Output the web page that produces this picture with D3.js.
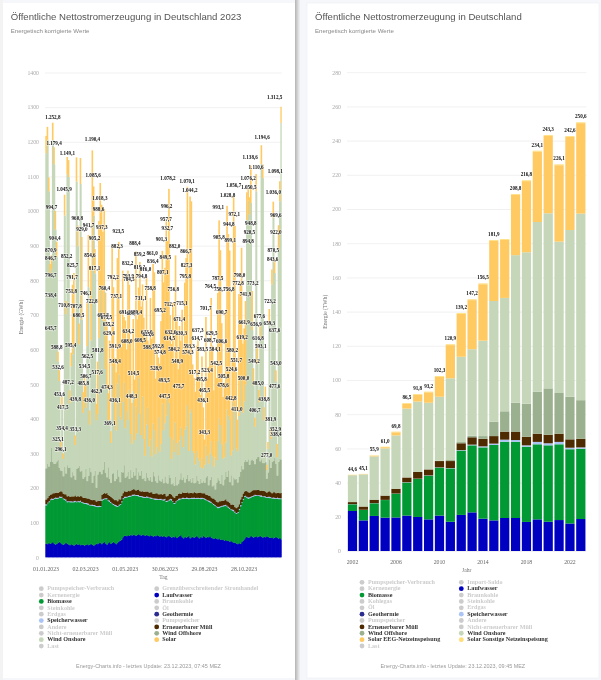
<!DOCTYPE html>
<html><head><meta charset="utf-8">
<script src="https://cdn.jsdelivr.net/npm/d3@7/dist/d3.min.js"></script>
<style>html,body{margin:0;padding:0;background:#f5f7fa}svg{display:block;filter:blur(.35px)}</style></head>
<body><svg id="c" width="601" height="680"></svg>
<script>
// ---- left chart: daily production 2023 (GWh), sampled every second day
const leftTitle="Öffentliche Nettostromerzeugung in Deutschland 2023";
const rightTitle="Öffentliche Nettostromerzeugung in Deutschland";
const subTitle="Energetisch korrigierte Werte";
const hydro=[40,38,42,39,41,44,40,37,39,42,45,41,38,36,40,43,39,37,35,38,36,34,37,39,36,38,35,37,36,34,36,38,35,37,39,36,34,37,40,38,41,43,38,42,46,40,37,41,44,39,42,45,41,38,43,46,48,51,58,62,63,61,64,62,65,63,66,64,62,65,67,64,63,66,64,62,65,63,61,64,62,60,63,61,64,62,60,63,59,62,60,58,61,63,59,57,60,58,61,56,59,62,64,58,55,60,57,59,62,55,58,60,56,59,63,58,55,60,57,62,59,56,60,58,61,57,55,53,56,54,52,55,51,50,52,48,50,47,49,45,47,44,42,43,40,38,41,39,44,48,52,58,60,56,58,62,60,57,59,61,58,60,62,59,57,60,58,61,59,57,56,58,55,57,59,56,54,56,52];
const biomass=[110,118,117,126,125,122,129,133,130,128,127,131,135,132,126,120,120,123,124,121,123,125,123,120,124,121,125,121,120,121,118,115,117,113,111,113,114,110,106,107,105,103,125,124,122,128,131,123,116,118,112,106,108,109,103,103,104,108,110,109,109,112,110,113,111,114,112,115,116,112,109,111,111,107,108,110,108,109,110,106,107,108,104,105,102,104,106,103,106,102,106,102,101,101,107,107,100,96,98,107,106,105,104,111,114,109,112,110,106,114,111,109,113,110,106,111,114,108,112,107,108,109,103,103,98,100,99,98,92,91,90,88,94,97,95,100,98,100,94,95,90,91,91,86,86,90,96,108,114,118,122,118,112,113,113,111,115,119,118,116,119,117,114,116,117,114,115,111,113,114,115,112,115,112,110,113,114,112,116];
const storage=[3,2,3,2,4,3,2,3,3,2,4,3,2,2,3,4,3,2,3,3,2,4,3,2,3,3,4,2,3,2,3,4,3,2,2,3,3,4,2,3,3,2,4,3,2,3,3,2,4,3,2,3,3,4,2,3,2,3,3,4,3,2,3,3,2,4,3,3,2,3,4,2,3,3,3,2,4,3,2,3,3,2,3,4,3,2,3,3,2,4,3,3,2,3,3,4,2,3,3,2,4,3,2,3,3,2,4,3,3,2,3,3,4,2,3,3,2,4,3,2,3,3,2,3,4,3,2,3,3,2,4,3,3,2,3,3,4,2,3,3,2,3,4,3,2,3,3,4,2,3,3,2,3,4,3,3,2,3,4,3,2,3,3,4,2,3,3,2,3,4,3,2,3,3,2,4,3,3,2];
const waste=[14,13,15,14,12,16,14,13,15,14,13,16,15,14,13,15,14,16,13,14,15,13,16,14,15,13,14,16,13,15,14,13,15,16,14,13,15,14,13,16,14,15,13,14,16,13,15,14,13,15,16,14,13,15,14,16,13,15,14,16,15,14,16,13,15,14,16,14,13,15,16,14,13,15,14,16,13,15,14,15,16,13,14,15,16,14,13,15,14,16,15,13,14,16,15,13,14,15,16,13,14,15,13,16,14,15,13,16,14,15,14,13,16,15,13,14,16,15,13,14,15,13,16,14,15,13,14,16,15,14,13,16,14,15,13,14,16,13,15,14,13,15,14,13,14,15,13,16,14,15,13,14,16,15,13,14,16,15,13,14,16,15,13,14,16,15,14,13,15,16,14,13,15,16,14,13,15,14,16];
const offshore=[90,100,85,95,135,90,85,85,90,95,70,60,60,50,80,60,90,80,85,55,70,60,45,80,80,90,70,75,55,60,85,50,65,90,80,50,70,85,40,75,85,85,60,70,90,60,45,80,50,40,70,75,55,60,90,65,50,70,60,75,40,45,55,35,60,35,50,40,65,30,50,45,60,35,40,30,55,40,35,45,30,65,50,35,30,55,40,35,45,30,50,40,35,55,45,30,40,35,55,30,30,40,60,35,45,30,40,50,35,40,30,45,25,30,50,35,25,40,30,35,30,50,55,30,45,60,35,40,30,55,70,60,50,75,45,60,80,70,90,60,85,55,80,80,85,70,80,80,90,70,85,90,85,95,80,90,90,85,75,90,95,95,85,90,80,80,85,40,55,90,70,90,90,100,85,50,90,100,95];
const onshore=[910,935,795,545,515,930,865,675,590,285,250,65,185,50,725,460,840,840,185,320,340,380,100,830,640,350,830,435,190,230,175,390,545,125,380,620,750,570,195,175,385,525,460,430,490,300,255,135,170,115,310,215,165,140,250,295,190,150,203,238,143,188,148,258,103,98,233,103,178,133,273,178,103,238,113,73,138,203,98,108,73,138,133,78,103,168,83,108,218,153,153,193,248,208,118,73,123,97,157,122,82,112,132,127,87,152,152,202,87,192,212,77,87,52,72,67,67,32,72,37,52,92,57,62,77,102,87,52,92,65,107,178,170,87,77,64,84,195,158,180,57,100,217,200,87,90,175,188,250,164,175,217,698,748,723,743,373,218,108,773,268,158,358,853,823,123,183,25,68,393,83,513,703,533,238,53,613,743,973];
const solar=[50,37,40,26,40,50,49,54,44,28,32,20,28,16,60,38,50,49,37,40,201,205,28,70,60,60,75,239,60,64,66,126,151,41,214,340,85,70,47,151,338,308,318,257,240,220,195,79,229,34,350,322,191,168,362,383,300,210,380,190,311,178,432,303,274,118,208,174,448,329,260,439,371,324,350,340,426,193,295,408,340,461,456,218,290,172,254,355,441,427,449,566,452,618,352,332,396,264,482,360,248,331,250,365,280,425,486,630,283,624,600,250,217,210,304,347,240,210,293,176,73,371,223,280,298,414,319,220,274,237,427,573,505,350,178,205,380,588,524,489,132,260,596,532,221,91,352,358,380,199,211,241,80,36,50,108,113,49,26,50,56,35,37,54,40,38,35,15,20,43,31,43,46,40,32,38,70,58,47];
const dayTickRows=[0,30,60,90,120,150];
const dayTickLabels=["01.01.2023","02.03.2023","01.05.2023","30.06.2023","29.08.2023","28.10.2023"];
const leftYTicks=[0,100,200,300,400,500,600,700,800,900,1000,1100,1200,1300,1400];
// stack-total labels (day of year offset, GWh)
const labelDay=[8,8,8,8,8,11,13,9,14,17,19,19,21,23,25,26,28,28,32,33,34,38,39,40,41,45,45,46,48,50,55,57,59,61,61,63,65,66,67,70,71,72,74,74,77,78,79,80,82,85,87,89,92,93,95,96,97,102,105,105,105,107,108,110,120,123,124,125,125,126,130,131,133,135,137,142,142,143,144,145,151,153,155,156,158,161,162,167,170,173,173,175,177,179,180,181,182,183,184,185,187,188,189,193,194,195,199,201,202,205,206,211,212,213,214,215,217,218,225,229,230,235,237,238,240,240,242,244,248,249,251,256,258,260,261,262,263,266,266,268,269,275,277,277,279,280,281,282,284,285,288,289,291,293,297,299,300,302,306,307,306,308,310,309,313,315,316,318,318,321,321,323,325,327,330,334,338,339,340,343,344,344,346,346,346,347,347,348,348,348,348];
const labelValue=[870.9,846.7,796.7,738.4,645.7,1252.8,1179.4,994.7,904.4,588.8,532.6,325.1,453.6,296.1,354.4,417.5,710.8,1045.9,852.2,1149.1,487.2,595.4,751.8,791.7,825.7,353.3,439.8,707.8,960.8,680.5,929.0,485.8,534.5,506.7,746.1,562.5,941.7,436.0,854.6,722.8,1190.4,1085.6,817.1,905.2,462.9,517.6,581.8,988.6,1018.3,937.3,682.8,760.4,675.5,474.3,655.2,629.4,369.1,792.2,591.9,436.1,548.4,737.1,882.3,923.5,691.7,608.0,832.2,634.2,793.9,784.5,448.3,688.4,514.5,888.4,689.4,819.2,859.2,608.5,731.1,794.8,816.0,633.0,625.6,588.1,758.8,861.0,836.4,528.9,592.8,574.8,695.2,901.3,807.1,493.5,447.5,849.5,957.7,996.2,932.7,1078.2,614.5,712.7,632.6,756.8,584.2,882.0,548.9,475.7,671.4,630.3,715.1,795.8,866.7,827.3,1070.1,574.3,593.3,1044.2,517.2,614.7,637.3,495.8,583.5,436.1,465.5,343.3,701.7,523.4,608.7,764.5,629.5,584.1,542.5,787.5,993.1,905.8,758.3,606.6,690.7,478.6,505.8,1028.8,944.8,756.8,899.1,442.8,524.6,580.2,1056.7,972.1,551.7,411.0,772.8,798.0,619.2,500.0,661.9,741.9,1076.2,1050.5,894.8,920.5,948.8,1138.6,773.2,549.2,406.7,656.9,1110.6,616.8,485.0,677.6,593.1,1194.6,438.8,277.0,659.3,723.2,381.9,843.6,870.5,1036.0,637.6,1312.5,477.6,1098.1,352.9,338.4,543.0,969.6,922.0];
// ---- right chart: yearly production (TWh)
const years=[2002,2003,2004,2005,2006,2007,2008,2009,2010,2011,2012,2013,2014,2015,2016,2017,2018,2019,2020,2021,2022,2023];
const yHydro=[23.4,17.9,20.5,19.5,19.6,20.7,19.9,18.5,20.7,17.1,21.1,22.6,18.9,17.9,19.3,19.3,17,18.5,17.1,18.1,16.1,18.7];
const yBiomass=[3.9,6.1,7.4,10.3,13.9,19.3,22.2,25.5,28,31.2,37.6,39.2,41.7,44.1,44.6,44.6,44,43.9,44.7,44.3,43.4,41.1];
const yStorage=[0.1,0.1,0.1,0.1,0.1,0.2,0.2,0.2,0.2,0.2,0.3,0.4,0.6,0.8,1.2,1,0.8,1.4,1.2,1.4,0.9,0.8];
const yWaste=[1.2,1.9,2,2.5,2.8,2.8,3.9,3.5,3.7,4.1,4,4.3,4.4,4.4,4.7,4.7,5,4.8,5,4.8,4.9,5];
const yOffshore=[0,0,0,0,0,0,0,0,0.2,0.6,0.7,0.9,1.6,8.4,11.9,17.1,19.3,24.6,27.1,23.8,24.9,22.6];
const yOnshore=[15.7,18.8,25.3,27.6,31.2,40.3,41.2,39,37.4,47.8,49.9,50.6,55.8,70.6,66.3,86.3,88.6,99.2,102.4,88.5,97.5,109.1];
const ySolarEEG=[0.1,0.1,0.3,0.7,1.8,2.8,4,6.1,11.6,19.4,25.1,28.7,33,35.2,33.9,35.3,41.6,41.2,45.3,44.7,54.4,52.9];
const ySolarOther=[0.2,0.2,0.3,0.3,0.4,0.4,0.4,0.4,0.5,0.5,0.5,0.5,0.5,0.5,0.5,0.5,0.5,0.5,0.5,0.5,0.5,0.5];
const yearLabels=["44,6","45,1","55,9","61,0","69,8","86,5","91,8","93,2","102,3","120,9","139,2","147,2","156,5","181,9","","208,8","216,8","234,1","243,3","226,1","242,6","250,6"];
const rightYTicks=[0,20,40,60,80,100,120,140,160,180,200,220,240,260,280];
const yearTicks=[2002,2006,2010,2014,2018,2022];
// ---- legends
const legendLeft1=["Pumpspeicher-Verbrauch","Kernenergie","Biomasse","Steinkohle","Erdgas","Speicherwasser","Andere","Nicht-erneuerbarer Müll","Wind Onshore","Last"];
const legendLeft2=["Grenzüberschreitender Stromhandel","Laufwasser","Braunkohle","Öl","Geothermie","Pumpspeicher","Erneuerbarer Müll","Wind Offshore","Solar"];
const legendRight1=["Pumpspeicher-Verbrauch","Kernenergie","Biomasse","Kohlegas","Öl","Geothermie","Pumpspeicher","Erneuerbarer Müll","Wind Offshore","Solar EEG-Netzeinspeisung","Last"];
const legendRight2=["Import-Saldo","Laufwasser","Braunkohle","Steinkohle","Erdgas","Speicherwasser","Andere","Nicht-erneuerbarer Müll","Wind Onshore","Solar Sonstige Netzeinspeisung"];
const colors={"Laufwasser":"#0000c0","Biomasse":"#009933","Speicherwasser":"#a9c4f5","Erneuerbarer Müll":"#4d2a00","Geothermie":"#2b2b90","Wind Offshore":"#9bb08e","Wind Onshore":"#c5d7b8","Solar":"#ffca62","Solar EEG-Netzeinspeisung":"#ffca62","Solar Sonstige Netzeinspeisung":"#ffdd77"};

const SERIF='"Liberation Serif",serif', SANS='"Liberation Sans",Arial,sans-serif';
const svg=d3.select("#c");
const defs=svg.append("defs");
const g0=defs.append("linearGradient").attr("id","sh");
g0.append("stop").attr("offset",0).attr("stop-color","#b4b4b4");
g0.append("stop").attr("offset",1).attr("stop-color","#f2f3f5");
svg.append("rect").attr("width",601).attr("height",680).attr("fill","#f5f7fa");
svg.append("rect").attr("x",0).attr("y",0).attr("width",3).attr("height",680).attr("fill","#f3f3f3");
svg.append("rect").attr("x",295).attr("y",0).attr("width",5).attr("height",680).attr("fill","url(#sh)");
svg.append("rect").attr("x",3).attr("y",3).attr("width",292).attr("height",675).attr("fill","#fff");
svg.append("rect").attr("x",307).attr("y",3).attr("width",292).attr("height",675).attr("fill","#fff").attr("stroke","#eceef1").attr("stroke-width",.6);

function head(x,title,sub,fx,foot){
  svg.append("text").attr("x",x).attr("y",20.3).attr("font-family",SANS).attr("font-size",9.6).attr("fill","#555").text(title);
  svg.append("text").attr("x",x).attr("y",32.5).attr("font-family",SANS).attr("font-size",6.1).attr("fill","#888").text(sub);
  svg.append("text").attr("x",fx).attr("y",667.5).attr("text-anchor","middle").attr("font-family",SANS).attr("font-size",5.45).attr("fill","#999").text(foot);
}
head(10.7,leftTitle,subTitle,148.5,"Energy-Charts.info - letztes Update: 23.12.2023, 07:45 MEZ");
head(315,rightTitle,subTitle,452.8,"Energy-Charts.info - letztes Update: 23.12.2023, 09:45 MEZ");

function yAxis(y,left,right,ticks){
  const g=svg.append("g").attr("transform",`translate(${left},0)`).call(d3.axisLeft(y).tickValues(ticks).tickFormat(d3.format("d")).tickSize(-(right-left)).tickPadding(6));
  g.select(".domain").remove();
  g.selectAll("line").attr("stroke","#eeeeee").attr("stroke-width",.8);
  g.selectAll("text").attr("font-family",SERIF).attr("font-size",5.8).attr("fill","#aaa");
}
function legend(items,cx,tx,y0){
  items.forEach((n,i)=>{
    const on=colors[n]!==undefined;
    svg.append("circle").attr("cx",cx).attr("cy",y0+i*6.37).attr("r",2.4).attr("fill",on?colors[n]:"#cccccc");
    svg.append("text").attr("x",tx).attr("y",y0+i*6.37+1.7).attr("font-family",SERIF).attr("font-weight","bold").attr("font-size",6.1).attr("fill",on?"#333":"#cccccc").text(n);
  });
}
function bold(sel){sel.attr("font-family",SERIF).attr("font-weight","bold").attr("font-size",5.1).attr("fill","#111").attr("text-anchor","middle").attr("stroke","#fff").attr("stroke-width",.9).attr("stroke-opacity",.75).attr("paint-order","stroke");}

// ---- LEFT chart
const rows=d3.range(onshore.length);
const xL=d3.scaleBand().domain(rows).range([45.3,281.7]);
const dayX=d3.scaleLinear().domain([0,357]).range([45.5,281.9]);
const yL=d3.scaleLinear().domain([0,1400]).range([557.3,72.5]);
yAxis(yL,45,281.7,leftYTicks);
const leftTable=rows.map(i=>({Laufwasser:hydro[i],Biomasse:biomass[i],Speicherwasser:storage[i],"Erneuerbarer Müll":waste[i],"Wind Offshore":offshore[i],"Wind Onshore":onshore[i],Solar:solar[i]}));
const leftKeys=["Laufwasser","Biomasse","Speicherwasser","Erneuerbarer Müll","Wind Offshore","Wind Onshore","Solar"];
d3.stack().keys(leftKeys)(leftTable).forEach(s=>{
  const overlap=s.key==="Solar"?.3:.7;
  svg.append("g").attr("fill",colors[s.key]).selectAll("rect").data(s).join("rect")
    .attr("x",(d,i)=>xL(i)).attr("width",(d,i)=>i===rows.length-1?xL.bandwidth():xL.bandwidth()+overlap)
    .attr("y",d=>yL(d[1])).attr("height",d=>yL(d[0])-yL(d[1]));
});
const fmt=v=>{const s=v.toFixed(1).replace(".",",");return v>=1000?s[0]+"."+s.slice(1):s;};
bold(svg.append("g").selectAll("text").data(labelValue).join("text")
  .attr("x",(d,i)=>dayX(labelDay[i])).attr("y",d=>yL(d)-4.2).text(fmt));
const xaxL=svg.append("g").attr("transform","translate(0,561)").call(d3.axisBottom(xL).tickValues(dayTickRows).tickSize(0).tickPadding(6).tickFormat((d,i)=>dayTickLabels[i]));
xaxL.select(".domain").remove();
xaxL.selectAll("text").attr("font-family",SERIF).attr("font-size",5.8).attr("fill","#666");
const title=(x,y,t,rot)=>svg.append("text").attr("text-anchor","middle").attr("font-family",SERIF).attr("font-size",5.6).attr("fill","#777").attr("transform",`translate(${x},${y})`+(rot?" rotate(-90)":"")).text(t);
title(163.3,579,"Tag");
title(22.5,317,"Energie (GWh)",true);
legend(legendLeft1,41.3,47.3,588.7);
legend(legendLeft2,156.7,162.3,588.7);

// ---- RIGHT chart
const xR=d3.scaleBand().domain(years).range([347,586.3]).paddingInner(.15).paddingOuter(.08);
const yR=d3.scaleLinear().domain([0,280]).range([551,72.2]);
yAxis(yR,347,586.3,rightYTicks);
const rightTable=years.map((y,i)=>({Laufwasser:yHydro[i],Biomasse:yBiomass[i],Speicherwasser:yStorage[i],"Erneuerbarer Müll":yWaste[i],"Wind Offshore":yOffshore[i],"Wind Onshore":yOnshore[i],"Solar EEG-Netzeinspeisung":ySolarEEG[i],"Solar Sonstige Netzeinspeisung":ySolarOther[i]}));
const rightKeys=["Laufwasser","Biomasse","Speicherwasser","Erneuerbarer Müll","Wind Offshore","Wind Onshore","Solar EEG-Netzeinspeisung","Solar Sonstige Netzeinspeisung"];
const rs=d3.stack().keys(rightKeys)(rightTable);
rs.forEach(s=>{
  svg.append("g").attr("fill",colors[s.key]).selectAll("rect").data(s).join("rect")
    .attr("x",(d,i)=>xR(years[i])).attr("width",xR.bandwidth())
    .attr("y",d=>yR(d[1])).attr("height",d=>Math.max(0,yR(d[0])-yR(d[1])));
});
const tops=rs[rs.length-1];
bold(svg.append("g").selectAll("text").data(yearLabels).join("text")
  .attr("x",(d,i)=>xR(years[i])+xR.bandwidth()/2).attr("y",(d,i)=>yR(tops[i][1])-4).text(d=>d));
const xaxR=svg.append("g").attr("transform","translate(0,554)").call(d3.axisBottom(xR).tickValues(yearTicks).tickSize(0).tickPadding(6));
xaxR.select(".domain").remove();
xaxR.selectAll("text").attr("font-family",SERIF).attr("font-size",5.8).attr("fill","#666");
title(466.7,572.3,"Jahr");
title(326.5,311.7,"Energie (TWh)",true);
legend(legendRight1,362,368,582.3);
legend(legendRight2,461.3,467.3,582.3);
</script></body></html>
